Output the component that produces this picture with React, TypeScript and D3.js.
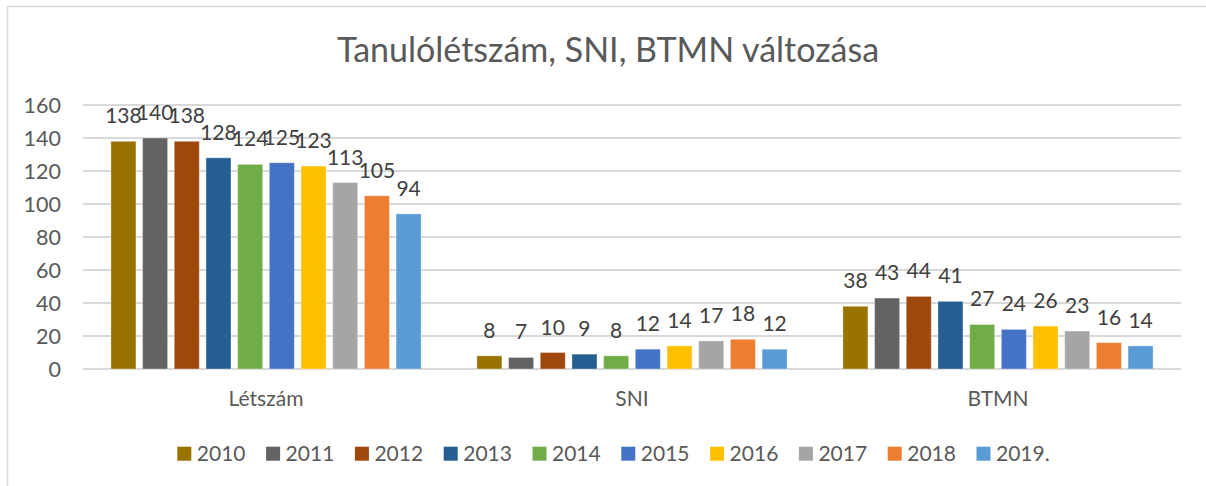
import * as d3 from 'd3';
import * as React from 'react';

// chart data
const categories = ['Létszám', 'SNI', 'BTMN'];
const years = ['2010', '2011', '2012', '2013', '2014', '2015', '2016', '2017', '2018', '2019.'];
const values2010 = [138, 8, 38];
const values2011 = [140, 7, 43];
const values2012 = [138, 10, 44];
const values2013 = [128, 9, 41];
const values2014 = [124, 8, 27];
const values2015 = [125, 12, 24];
const values2016 = [123, 14, 26];
const values2017 = [113, 17, 23];
const values2018 = [105, 18, 16];
const values2019 = [94, 12, 14];
const seriesValues = [values2010, values2011, values2012, values2013, values2014,
    values2015, values2016, values2017, values2018, values2019];
const colors = ['#997300', '#636363', '#9e480e', '#255e91', '#70ad47',
    '#4472c4', '#ffc000', '#a5a5a5', '#ed7d31', '#5b9bd5'];
const yTicks = [0, 20, 40, 60, 80, 100, 120, 140, 160];

const width = 1206;
const height = 486;
const font = 'Lato, Carlito, Calibri, sans-serif';

/**
 * Clustered column chart
 */
export default function App() {
    const x = d3.scaleBand<string>()
        .domain(categories)
        .range([83, 1181]);
    const xInner = d3.scaleBand<string>()
        .domain(years)
        .range([0, x.bandwidth()])
        .paddingInner(0.21)
        .paddingOuter(0.88);
    const y = d3.scaleLinear()
        .domain([0, 160])
        .range([369, 105]);

    const legendX = d3.scaleBand<string>()
        .domain(years)
        .range([177.3, 177.3 + 88.8 * years.length]);

    return (
        <svg width={width} height={height}
            style={{ position: 'absolute', left: 0, top: 0, display: 'block', background: '#fff' }}>
            <rect x={7.5} y={6.5} width={1250} height={600} fill="#fff" stroke="#d9d9d9" strokeWidth={1.5} />
            <text x={608} y={62} textAnchor="middle" fontFamily={font} fontSize={34} fill="#595959">
                Tanulólétszám, SNI, BTMN változása
            </text>

            {yTicks.map(t => (
                <g key={t}>
                    <line x1={83} x2={1181} y1={y(t)} y2={y(t)} stroke="#d9d9d9" strokeWidth={2} />
                    <text x={61} y={y(t) + 7.5} textAnchor="end" fontFamily={font} fontSize={21.5} fill="#595959">{t}</text>
                </g>
            ))}

            {categories.map((c, ci) => (
                <g key={c} transform={`translate(${x(c)},0)`}>
                    {years.map((yr, si) => {
                        const v = seriesValues[si][ci];
                        const bx = xInner(yr) as number;
                        return (
                            <g key={yr}>
                                <rect x={bx} y={y(v)} width={xInner.bandwidth()} height={y(0) - y(v)}
                                    fill={colors[si]} stroke="#fff" strokeOpacity={0.35} strokeWidth={1} />
                                <text x={bx + xInner.bandwidth() / 2} y={y(v) - 18} textAnchor="middle"
                                    fontFamily={font} fontSize={21} fill="#404040">{v}</text>
                            </g>
                        );
                    })}
                    <text x={x.bandwidth() / 2} y={406} textAnchor="middle" fontFamily={font} fontSize={21} fill="#595959">{c}</text>
                </g>
            ))}

            {years.map((yr, si) => (
                <g key={yr} transform={`translate(${legendX(yr)},0)`}>
                    <rect x={0} y={446.7} width={14} height={14} fill={colors[si]} />
                    <text x={19.5} y={460.5} fontFamily={font} fontSize={21} fill="#595959">{yr}</text>
                </g>
            ))}
        </svg>
    );
}
